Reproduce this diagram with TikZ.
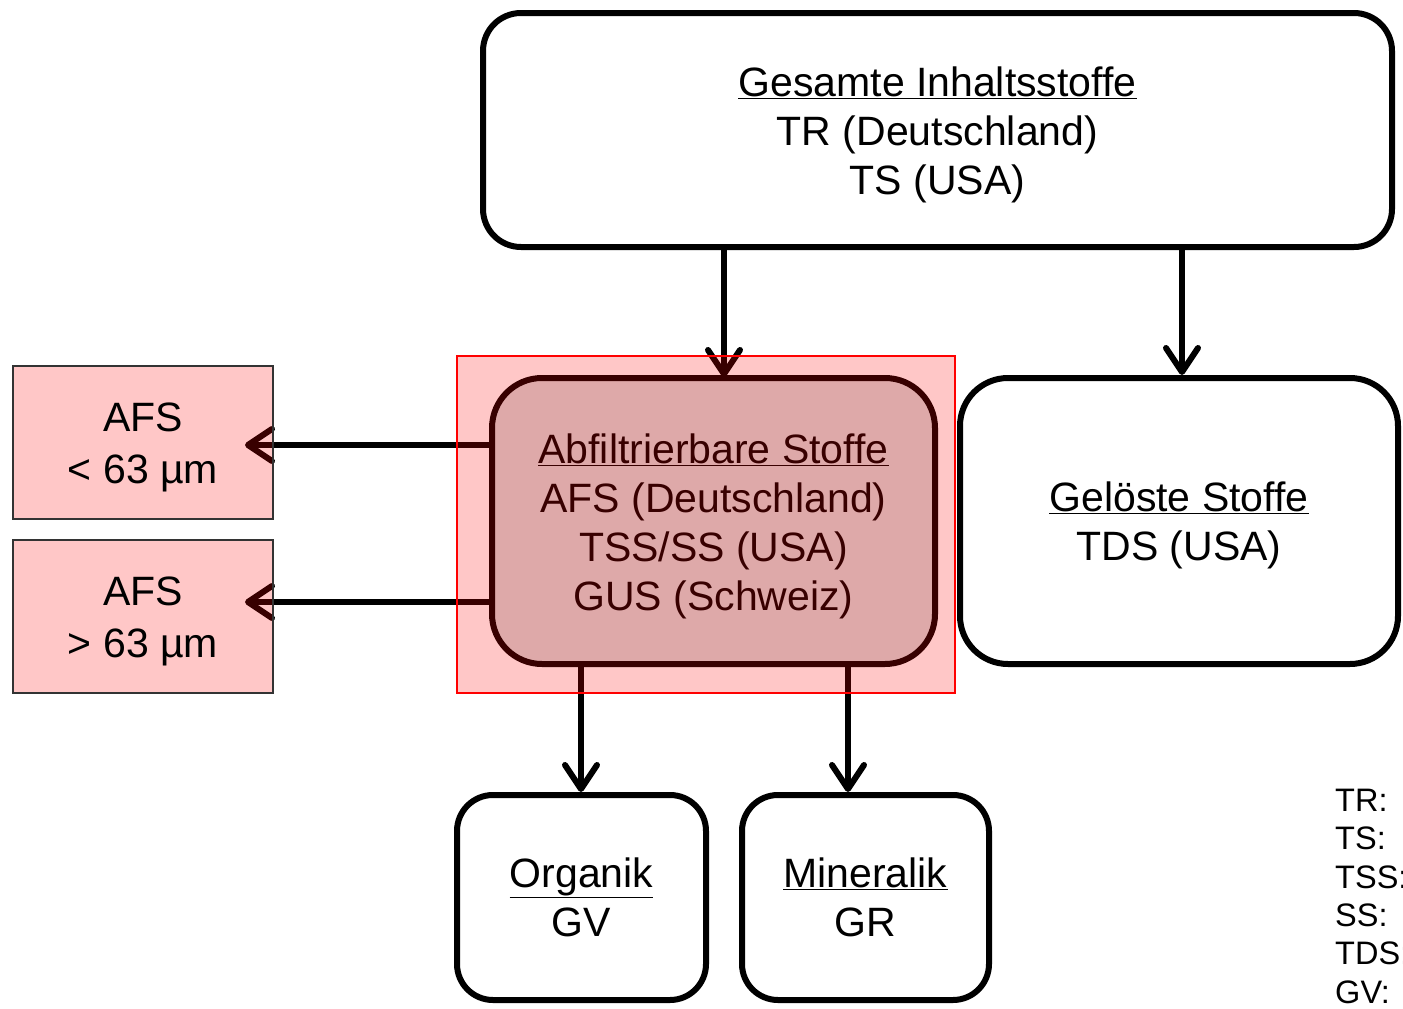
\documentclass[tikz,border=0pt]{standalone}
\usepackage{fontspec}
\setmainfont{Liberation Sans}
\usetikzlibrary{arrows.meta}
\pgfdeclarelayer{back}
\pgfdeclarelayer{front}
\pgfsetlayers{back,main,front}
\definecolor{cengrey}{HTML}{D5D9D9}
\definecolor{afsline}{HTML}{333333}
\newcommand\mystrut[1]{\rule{0pt}{#1}}
\begin{document}
\begin{tikzpicture}[x=1pt,y=-1pt,
  box/.style={draw=black, line width=6pt, fill=white, align=center,
    font=\fontsize{41}{49}\selectfont, inner sep=0pt},
  afsbox/.style={draw=afsline, line width=2pt, fill=red, fill opacity=0.22,
    text opacity=1, align=center, font=\fontsize{41}{52}\selectfont,
    inner sep=0pt, minimum width=260pt, minimum height=153pt},
  arr/.style={line width=6pt, draw=black,
    -{Straight Barb[length=24pt,width=32pt,line cap=round,line join=round]}},
  legend/.style={align=left, font=\fontsize{32.5}{38.3}\selectfont, inner sep=0pt}]
\useasboundingbox (0,0) rectangle (1403,1009);

% main boxes
\node[box, rounded corners=38pt, minimum width=909pt, minimum height=234pt] (top) at (937.5,130)
  {\mystrut{39pt}\underline{Gesamte Inhaltsstoffe}\\TR (Deutschland)\\TS (USA)};
\node[box, fill=cengrey, rounded corners=50pt, minimum width=443pt, minimum height=286pt] (cen) at (713.5,521)
  {\mystrut{40pt}\underline{Abfiltrierbare Stoffe}\\AFS (Deutschland)\\TSS/SS (USA)\\GUS (Schweiz)};
\node[box, rounded corners=48pt, minimum width=438pt, minimum height=286pt] (tds) at (1179,521)
  {\mystrut{39pt}\underline{Gelöste Stoffe}\\TDS (USA)};
\node[box, rounded corners=36pt, minimum width=249pt, minimum height=205pt] (org) at (581.5,897.5)
  {\underline{Organik}\\GV};
\node[box, rounded corners=36pt, minimum width=247pt, minimum height=205pt] (min) at (865.5,897.5)
  {\underline{Mineralik}\\GR};

% side boxes
\node[afsbox] (afs1) at (143,442.5) {\mystrut{39pt}AFS\\< 63 µm};
\node[afsbox] (afs2) at (143,616.5) {\mystrut{39pt}AFS\\> 63 µm};

% legend
\node[legend, anchor=north west] (leg) at (1335,789) {TR:\\TS:\\TSS:\\SS:\\TDS:\\GV:};

% column / row helpers
\coordinate (c1) at (724,0);
\coordinate (c2) at (1182,0);
\coordinate (c3) at (581,0);
\coordinate (c4) at (848,0);
\coordinate (r1) at (0,445);
\coordinate (r2) at (0,602);

\begin{pgfonlayer}{back}
\draw[arr] (top.south -| c1) -- ([yshift=-2pt]cen.north -| c1);
\draw[arr] (top.south -| c2) -- (tds.north -| c2);
\draw[arr] (cen.south -| c3) -- (org.north -| c3);
\draw[arr] (cen.south -| c4) -- (min.north -| c4);
\draw[arr, shorten >=-29pt] (cen.west |- r1) -- (afs1.east |- r1);
\draw[arr, shorten >=-29pt] (cen.west |- r2) -- (afs2.east |- r2);
\end{pgfonlayer}

\begin{pgfonlayer}{front}
\node[draw=red, line width=2pt, fill=red, fill opacity=0.22, draw opacity=1,
  minimum width=498pt, minimum height=337pt, inner sep=0pt] (hl) at (706,524.5) {};
\end{pgfonlayer}
\end{tikzpicture}
\end{document}
